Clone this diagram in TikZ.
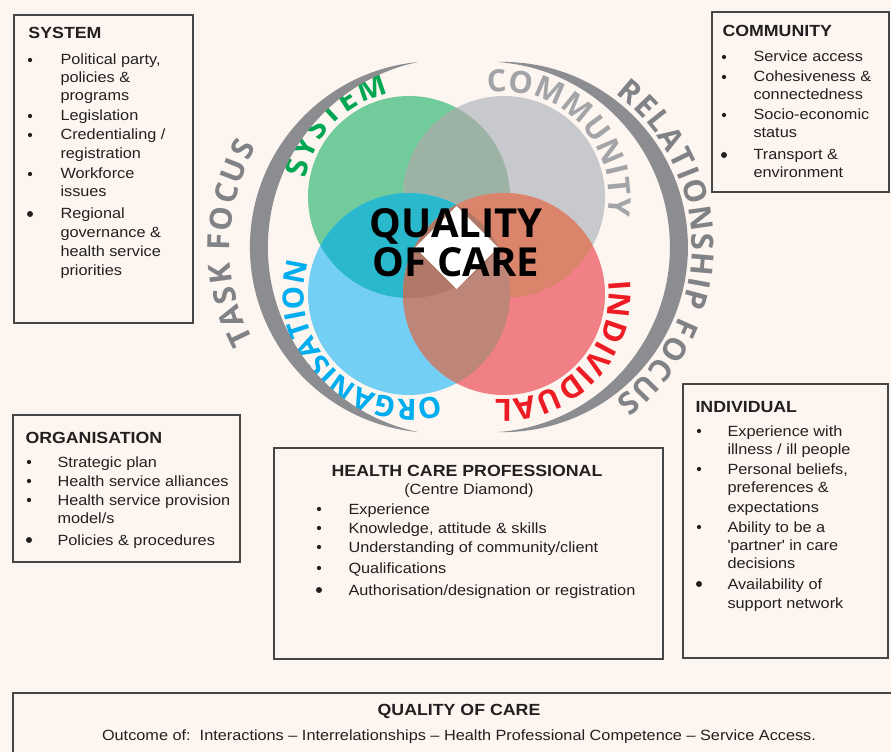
\documentclass[tikz,border=0pt]{standalone}
\usepackage{fontspec}
\setmainfont{Liberation Sans}[FakeStretch=1.1]
\newfontfamily\vennfont{Open Sans}
\usetikzlibrary{decorations.text}

\definecolor{paper}{RGB}{253,246,240}
\definecolor{ink}{RGB}{35,31,32}
\definecolor{frame}{RGB}{70,70,70}
\definecolor{sysfill}{RGB}{114,203,155}
\definecolor{comfill}{RGB}{200,201,204}
\definecolor{sysxcom}{RGB}{156,178,164}
\definecolor{orgfill}{RGB}{115,207,243}
\definecolor{sysxorg}{RGB}{42,184,204}
\definecolor{indfill}{RGB}{241,128,134}
\definecolor{comxind}{RGB}{218,132,108}
\definecolor{orgxind}{RGB}{190,134,121}
\definecolor{allxind}{RGB}{176,120,102}
\definecolor{syslab}{RGB}{0,166,81}
\definecolor{comlab}{RGB}{162,164,167}
\definecolor{orglab}{RGB}{0,174,239}
\definecolor{indlab}{RGB}{237,28,36}
\definecolor{focusgray}{RGB}{140,141,145}
\definecolor{focustxt}{RGB}{128,130,134}

\tikzset{every picture/.style={line width=0.75pt}}
\tikzset{
  infobox/.style={draw=frame, line width=0.9pt},
  boxhead/.style={anchor=base west, inner sep=0pt, text=ink, font=\fontsize{12.1}{14}\selectfont\bfseries},
  itemtxt/.style={anchor=base west, inner sep=0pt, text=ink, font=\fontsize{11.1}{14}\selectfont},
  bul/.style={circle, fill=ink, inner sep=0pt, minimum size=3.2pt},
  bigbul/.style={bul, minimum size=4.5pt},
  venntxt/.style n args={3}{decorate, decoration={text along path, text align=fit to path, text color=#1,
      text={|\vennfont\bfseries\fontsize{#3}{#3}\selectfont|#2}}},
}

\begin{document}
\begin{tikzpicture}[x=0.75pt,y=0.75pt,yscale=-1,xscale=1]
\useasboundingbox (0,0) rectangle (891,752);
%Background
\fill[paper] (0,0) rectangle (891,752);

%Shape: Circle [system]
\fill[sysfill] (409,197) circle (101);
%Shape: Circle [community]
\fill[comfill] (504,197) circle (101);
\begin{scope}
\clip (409,197) circle (101);
\fill[sysxcom] (504,197) circle (101);
\end{scope}
%Shape: Circle [organisation]
\fill[orgfill] (409,294) circle (101);
\begin{scope}
\clip (409,197) circle (101);
\fill[sysxorg] (409,294) circle (101);
\end{scope}
%Shape: Circle [individual]
\fill[indfill] (504,294) circle (101);
\begin{scope}
\clip (504,197) circle (101);
\fill[comxind] (504,294) circle (101);
\end{scope}
\begin{scope}
\clip (409,294) circle (101);
\fill[orgxind] (504,294) circle (101);
\end{scope}
\begin{scope}
\clip (409,294) circle (101);
\clip (409,197) circle (101);
\fill[allxind] (504,294) circle (101);
\end{scope}

%Shape: Diamond
\fill[white] (456.5,206) -- (498,247.5) -- (456.5,289) -- (415,247.5) -- cycle;

% Text Node
\draw (456,243) node[font=\vennfont\bfseries\fontsize{30}{29}\selectfont, align=center, text=black] (qoc) {QUALITY\\OF CARE};

%Curved labels
\path[venntxt={syslab}{SYSTEM}{23}] ([shift={(190:105)}]409,197) arc[start angle=190, end angle=259, radius=105];
\path[venntxt={comlab}{COMMUNITY}{23}] ([shift={(261:105)}]504,197) arc[start angle=261, end angle=370, radius=105];
\path[venntxt={orglab}{ORGANISATION}{22}] ([shift={(73:105)}]409,294) arc[start angle=73, end angle=197, radius=105];
\path[venntxt={indlab}{INDIVIDUAL}{23}] ([shift={(-7:105)}]504,294) arc[start angle=-7, end angle=95, radius=105];

%Shape: Arc [task focus]
\fill[focusgray] (418,62) arc[start angle=264.5, end angle=95.5, radius=185.9] arc[start angle=101.9, end angle=258.1, radius=189.1] -- cycle;
%Shape: Arc [relationship focus]
\fill[focusgray] (498,62) arc[start angle=-91.5, end angle=91.5, radius=185.1] arc[start angle=85.8, end angle=-85.8, radius=185.5] -- cycle;
\path[venntxt={focustxt}{TASK FOCUS}{23}] ([shift={(152:200)}]430,247) arc[start angle=152, end angle=210, radius=200];
\path[venntxt={focustxt}{RELATIONSHIP FOCUS}{23}] ([shift={(-53:192)}]500,247) arc[start angle=-53, end angle=53, radius=192];

%Shape: Rectangle [system]
\draw[infobox] (14,15) rectangle (193,323);
% Text Node
\draw (28,39) node[boxhead] (sysT) {SYSTEM};
\draw (30,60) node[bul] (sysb1) {};
\draw (60,65) node[itemtxt] (sys1) {Political party,};
\draw (60,83) node[itemtxt] (sys2) {policies \&};
\draw (60,101) node[itemtxt] (sys3) {programs};
\draw (30,116) node[bul] (sysb2) {};
\draw (60,121) node[itemtxt] (sys4) {Legislation};
\draw (30,135) node[bul] (sysb3) {};
\draw (60,140) node[itemtxt] (sys5) {Credentialing /};
\draw (60,159) node[itemtxt] (sys6) {registration};
\draw (30,174) node[bul] (sysb4) {};
\draw (60,179) node[itemtxt] (sys7) {Workforce};
\draw (60,197) node[itemtxt] (sys8) {issues};
\draw (30,214) node[bigbul] (sysb5) {};
\draw (60,219) node[itemtxt] (sys9) {Regional};
\draw (60,238) node[itemtxt] (sys10) {governance \&};
\draw (60,256) node[itemtxt] (sys11) {health service};
\draw (60,275) node[itemtxt] (sys12) {priorities};

%Shape: Rectangle [community]
\draw[infobox] (712,12) rectangle (889,192);
% Text Node
\draw (722,37) node[boxhead] (comT) {COMMUNITY};
\draw (724,57) node[bul] (comb1) {};
\draw (753,62) node[itemtxt] (com1) {Service access};
\draw (724,77) node[bul] (comb2) {};
\draw (753,82) node[itemtxt] (com2) {Cohesiveness \&};
\draw (753,100) node[itemtxt] (com3) {connectedness};
\draw (724,115) node[bul] (comb3) {};
\draw (753,120) node[itemtxt] (com4) {Socio-economic};
\draw (753,138) node[itemtxt] (com5) {status};
\draw (724,155) node[bigbul] (comb4) {};
\draw (753,160) node[itemtxt] (com6) {Transport \&};
\draw (753,178) node[itemtxt] (com7) {environment};

%Shape: Rectangle [organisation]
\draw[infobox] (13,415) rectangle (240,562);
% Text Node
\draw (25,443) node[boxhead] (orgT) {ORGANISATION};
\draw (29,462) node[bul] (orgb1) {};
\draw (57,467) node[itemtxt] (org1) {Strategic plan};
\draw (29,481) node[bul] (orgb2) {};
\draw (57,486) node[itemtxt] (org2) {Health service alliances};
\draw (29,500) node[bul] (orgb3) {};
\draw (57,505) node[itemtxt] (org3) {Health service provision};
\draw (57,523) node[itemtxt] (org4) {model/s};
\draw (29,540) node[bigbul] (orgb4) {};
\draw (57,545) node[itemtxt] (org5) {Policies \& procedures};

%Shape: Rectangle [health care professional]
\draw[infobox] (274,448) rectangle (663,659);
% Text Node
\draw (467,476) node[boxhead, anchor=base] (hcpT) {HEALTH CARE PROFESSIONAL};
\draw (469,494) node[itemtxt, anchor=base] (hcpS) {(Centre Diamond)};
\draw (319,509) node[bul] (hcpb1) {};
\draw (348,514) node[itemtxt] (hcp1) {Experience};
\draw (319,528) node[bul] (hcpb2) {};
\draw (348,533) node[itemtxt] (hcp2) {Knowledge, attitude \& skills};
\draw (319,547) node[bul] (hcpb3) {};
\draw (348,552) node[itemtxt] (hcp3) {Understanding of community/client};
\draw (319,568) node[bul] (hcpb4) {};
\draw (348,573) node[itemtxt] (hcp4) {Qualifications};
\draw (319,590) node[bigbul] (hcpb5) {};
\draw (348,595) node[itemtxt] (hcp5) {Authorisation/designation or registration};

%Shape: Rectangle [individual]
\draw[infobox] (683,384) rectangle (888,658);
% Text Node
\draw (695,412) node[boxhead] (indT) {INDIVIDUAL};
\draw (699,431) node[bul] (indb1) {};
\draw (727,436) node[itemtxt] (ind1) {Experience with};
\draw (727,454) node[itemtxt] (ind2) {illness / ill people};
\draw (699,469) node[bul] (indb2) {};
\draw (727,474) node[itemtxt] (ind3) {Personal beliefs,};
\draw (727,492) node[itemtxt] (ind4) {preferences \&};
\draw (727,512) node[itemtxt] (ind5) {expectations};
\draw (699,527) node[bul] (indb3) {};
\draw (727,532) node[itemtxt] (ind6) {Ability to be a};
\draw (727,550) node[itemtxt] (ind7) {\textquotesingle partner\textquotesingle\ in care};
\draw (727,568) node[itemtxt] (ind8) {decisions};
\draw (699,584) node[bigbul] (indb4) {};
\draw (727,589) node[itemtxt] (ind9) {Availability of};
\draw (727,608) node[itemtxt] (ind10) {support network};

%Shape: Rectangle [quality of care]
\draw[infobox] (895,693) -- (13,693) -- (13,756);
% Text Node
\draw (459,715) node[boxhead, anchor=base] (qocT) {QUALITY OF CARE};
\draw (459,740) node[itemtxt, anchor=base] (qocS) {Outcome of:\ \ Interactions -- Interrelationships -- Health Professional Competence -- Service Access.};

\end{tikzpicture}
\end{document}
